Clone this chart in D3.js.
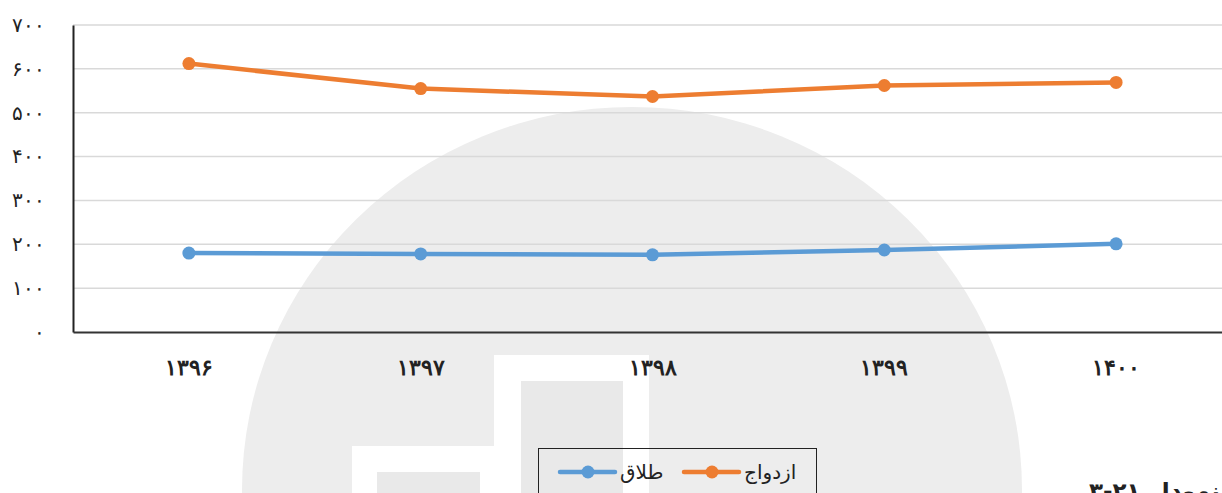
<!DOCTYPE html>
<html>
<head>
<meta charset="utf-8">
<script src="https://cdn.jsdelivr.net/npm/d3@7"></script>
<style>
  body { margin: 0; background: #fff; }
  svg { display: block; font-family: "DejaVu Sans", sans-serif; }
</style>
</head>
<body>
<div id="app"></div>
<script>
`use strict`;

const years = [`۱۳۹۶`, `۱۳۹۷`, `۱۳۹۸`, `۱۳۹۹`, `۱۴۰۰`];
const marriage = [612, 555, 537, 562, 569];
const divorce = [180, 178, 176, 187, 201];
const yTicks = [0, 100, 200, 300, 400, 500, 600, 700];
const seriesNames = [`ازدواج`, `طلاق`];
const caption = `نمودار ۲۱-۳`;

const W = 1222, H = 493;
const M = {top: 25, left: 73, right: -10, bottom: 161};

const toFa = n => String(n).replace(/\d/g, d => `۰۱۲۳۴۵۶۷۸۹`[d]);

let SVG = d3.select(`#app`).append(`svg`).attr(`width`, W).attr(`height`, H);

/* watermark */
let WM = SVG.append(`g`).attr(`fill`, `#ededed`);
WM.append(`path`).attr(`d`, `M242 500 L242 490 A390 383 0 0 1 1022 490 L1022 500 Z`);
WM.append(`rect`).attr(`x`, 494).attr(`y`, 355).attr(`width`, 155).attr(`height`, 140).attr(`fill`, `#fff`);
WM.append(`rect`).attr(`x`, 521).attr(`y`, 381).attr(`width`, 102).attr(`height`, 120).attr(`fill`, `#e9e9e9`);
WM.append(`rect`).attr(`x`, 352).attr(`y`, 446).attr(`width`, 142).attr(`height`, 50).attr(`fill`, `#fff`);
WM.append(`rect`).attr(`x`, 377).attr(`y`, 472).attr(`width`, 103).attr(`height`, 30).attr(`fill`, `#e9e9e9`);

let x = d3.scaleBand().domain(years).range([M.left, W - M.right]);
let y = d3.scaleLinear().domain([0, 700]).range([H - M.bottom, M.top]);

/* grid */
SVG.append(`g`).selectAll(`line`).data(yTicks.slice(1)).enter().append(`line`)
  .attr(`x1`, M.left).attr(`x2`, W).attr(`y1`, d => y(d)).attr(`y2`, d => y(d))
  .attr(`stroke`, `#d9d9d9`).attr(`stroke-width`, 1.5);

/* axes */
let yAxis = SVG.append(`g`).attr(`transform`, `translate(${M.left},0)`)
  .call(d3.axisLeft(y).tickValues(yTicks).tickSize(0).tickPadding(28).tickFormat(toFa));
yAxis.select(`.domain`).attr(`stroke`, `#222`).attr(`stroke-width`, 2);
yAxis.selectAll(`text`).attr(`font-size`, 20).attr(`fill`, `#222`);

let xAxis = SVG.append(`g`).attr(`transform`, `translate(0,${y(0)})`)
  .call(d3.axisBottom(x).tickSize(0).tickPadding(27));
xAxis.select(`.domain`).attr(`stroke`, `#333`).attr(`stroke-width`, 2);
xAxis.selectAll(`text`).attr(`font-size`, 22).attr(`font-weight`, `bold`).attr(`fill`, `#222`);

/* series */
const colors = [`#ED7D31`, `#5B9BD5`];
const series = [marriage, divorce];

let line = d3.line().x((d, i) => x(years[i]) + x.bandwidth() / 2).y(d => y(d));

series.forEach((S, k) => {
  SVG.append(`path`).datum(S).attr(`d`, line).attr(`fill`, `none`)
    .attr(`stroke`, colors[k]).attr(`stroke-width`, 4.5).attr(`stroke-linejoin`, `round`);
  SVG.append(`g`).selectAll(`circle`).data(S).enter().append(`circle`)
    .attr(`cx`, (d, i) => x(years[i]) + x.bandwidth() / 2).attr(`cy`, d => y(d))
    .attr(`r`, 6.5).attr(`fill`, colors[k]);
});

/* legend */
let LG = SVG.append(`g`);
LG.append(`rect`).attr(`x`, 538.5).attr(`y`, 448.5).attr(`width`, 278).attr(`height`, 60)
  .attr(`fill`, `none`).attr(`stroke`, `#222`).attr(`stroke-width`, 1);

const legendX = [684, 560];
seriesNames.forEach((N, k) => {
  let lx = legendX[k];
  LG.append(`line`).attr(`x1`, lx).attr(`x2`, lx + 55).attr(`y1`, 472).attr(`y2`, 472)
    .attr(`stroke`, colors[k]).attr(`stroke-width`, 4.5).attr(`stroke-linecap`, `round`);
  LG.append(`circle`).attr(`cx`, lx + 28).attr(`cy`, 472).attr(`r`, 6.5).attr(`fill`, colors[k]);
  LG.append(`text`).attr(`x`, lx + 60).attr(`y`, 479).attr(`text-anchor`, `start`)
    .attr(`font-size`, 20).attr(`fill`, `#222`).text(N);
});

/* caption, cut off at the bottom as in the source */
SVG.append(`text`).attr(`x`, 1220).attr(`y`, 499).attr(`text-anchor`, `end`)
  .attr(`font-size`, 23).attr(`font-weight`, `bold`).attr(`fill`, `#222`).text(caption);
</script>
</body>
</html>
